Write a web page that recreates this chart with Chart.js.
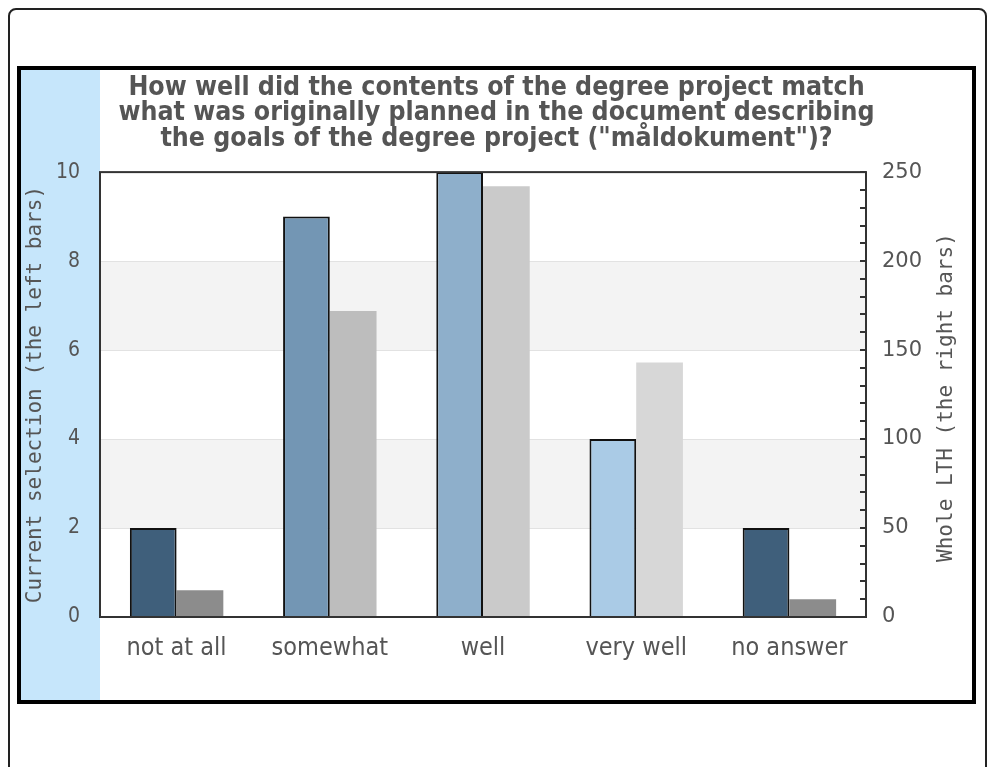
<!DOCTYPE html>
<html>
<head>
<meta charset="utf-8">
<script src="https://cdn.jsdelivr.net/npm/chart.js@4.4.1/dist/chart.umd.min.js"></script>
<style>
  body { margin: 0; background: #fff; }
  .outer { position: absolute; left: 8px; top: 8px; width: 979px; height: 800px; border: 2px solid #222; border-radius: 8px; box-sizing: border-box; }
  .frame { position: absolute; left: 17px; top: 66px; width: 959px; height: 638px; border: 4px solid #000; box-sizing: border-box; background: #fff; }
  canvas { display: block; }
</style>
</head>
<body>
<div class="outer"></div>
<div class="frame"><canvas id="chart" width="951" height="630"></canvas></div>
<script>
const categories = ['not at all', 'somewhat', 'well', 'very well', 'no answer'];
const currentSelection = [2, 9, 10, 4, 2];
const wholeLTH = [15, 172, 242, 143, 10];
const leftColors = ['#3f5f7b', '#7396b4', '#8eafcb', '#aacbe6', '#3f5f7b'];
const rightColors = ['#8c8c8c', '#bdbdbd', '#cacaca', '#d7d7d7', '#8c8c8c'];
const titleLines = [
    'How well did the contents of the degree project match',
    'what was originally planned in the document describing',
    'the goals of the degree project ("måldokument")?'
];

const textColor = '#555';

const decorations = {
    id: 'decorations',
    beforeDraw(chart) {
        const { ctx, chartArea: a, scales } = chart;
        ctx.save();
        ctx.fillStyle = '#c6e6fb';
        ctx.fillRect(0, 0, a.left, chart.height);
        // alternate shaded bands between left-axis ticks
        const ticks = scales.y.ticks;
        ctx.fillStyle = '#f3f3f3';
        for (let i = 1; i < ticks.length - 1; i += 2) {
            const yLo = scales.y.getPixelForValue(ticks[i].value);
            const yHi = scales.y.getPixelForValue(ticks[i + 1].value);
            ctx.fillRect(a.left, yHi, a.right - a.left, yLo - yHi);
        }
        ctx.restore();
    },
    afterDatasetsDraw(chart) {
        const { ctx, chartArea: a, scales } = chart;
        ctx.save();
        // small inward ticks on the right axis
        ctx.strokeStyle = '#333';
        ctx.lineWidth = 2;
        for (let v = scales.y1.min; v <= scales.y1.max; v += 10) {
            const y = Math.round(scales.y1.getPixelForValue(v));
            ctx.beginPath();
            ctx.moveTo(a.right - 6, y);
            ctx.lineTo(a.right, y);
            ctx.stroke();
        }
        // plot frame
        ctx.strokeRect(a.left, a.top, a.right - a.left, a.bottom - a.top);
        // right axis title, reading bottom to top
        ctx.fillStyle = textColor;
        ctx.font = '21px "DejaVu Sans Mono", monospace';
        ctx.textAlign = 'center';
        ctx.textBaseline = 'middle';
        ctx.translate(scales.y1.right - 25, (a.top + a.bottom) / 2 + 3);
        ctx.rotate(-Math.PI / 2);
        ctx.fillText('Whole LTH (the right bars)', 0, 0);
        ctx.restore();
    }
};

new Chart(document.getElementById('chart'), {
    type: 'bar',
    data: {
        labels: categories,
        datasets: [
            {
                label: 'Current selection',
                data: currentSelection,
                yAxisID: 'y',
                backgroundColor: leftColors,
                borderColor: '#111',
                borderWidth: 2,
                categoryPercentage: 0.61,
                barPercentage: 1.0
            },
            {
                label: 'Whole LTH',
                data: wholeLTH,
                yAxisID: 'y1',
                backgroundColor: rightColors,
                borderWidth: 0,
                categoryPercentage: 0.61,
                barPercentage: 1.0
            }
        ]
    },
    options: {
        responsive: false,
        animation: false,
        layout: { padding: 0 },
        plugins: {
            legend: { display: false },
            tooltip: { enabled: false },
            title: {
                display: true,
                text: titleLines,
                color: textColor,
                font: { family: '"Liberation Sans Narrow", "DejaVu Sans Condensed", sans-serif', size: 26.5, weight: 'bold', lineHeight: 0.97 },
                padding: { top: 5, bottom: 20 }
            }
        },
        scales: {
            x: {
                grid: { display: false },
                border: { display: false },
                ticks: {
                    color: textColor,
                    font: { family: '"DejaVu Sans Condensed", "DejaVu Sans", sans-serif', size: 25 },
                    padding: 8,
                    maxRotation: 0
                },
                afterFit: s => { s.height = 83; }
            },
            y: {
                position: 'left',
                min: 0,
                max: 10,
                ticks: {
                    stepSize: 2,
                    color: textColor,
                    font: { family: '"DejaVu Sans Condensed", "DejaVu Sans", sans-serif', size: 21 },
                    padding: 20
                },
                grid: { color: '#e2e2e2', drawTicks: false, lineWidth: 1 },
                border: { display: false },
                title: {
                    display: true,
                    text: 'Current selection (the left bars)',
                    color: textColor,
                    font: { family: '"DejaVu Sans Mono", monospace', size: 21 },
                    padding: { top: 2, bottom: 0 }
                },
                afterFit: s => { s.width = 79; }
            },
            y1: {
                position: 'right',
                min: 0,
                max: 250,
                ticks: {
                    stepSize: 50,
                    color: textColor,
                    font: { family: '"DejaVu Sans", sans-serif', size: 21 },
                    padding: 16
                },
                grid: { drawOnChartArea: false, drawTicks: false },
                border: { display: false },
                afterFit: s => { s.width = 106; }
            }
        }
    },
    plugins: [decorations]
});
</script>
</body>
</html>
